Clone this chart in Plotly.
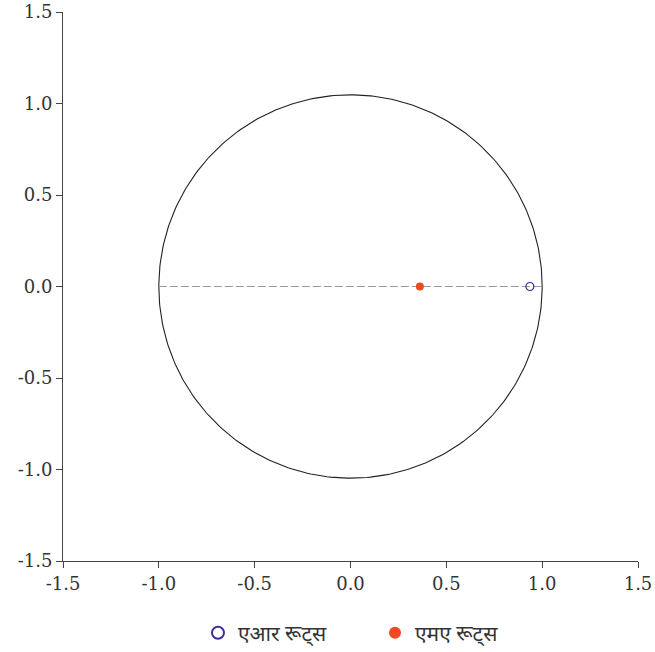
import numpy as np
import plotly.graph_objects as go

ar_roots_re = [0.936]
ar_roots_im = [0.0]
ma_roots_re = [0.362]
ma_roots_im = [0.0]
ref_line_x = [-1.0, 1.0]
ref_line_y = [0.0, 0.0]
tick_vals = [-1.5, -1.0, -0.5, 0.0, 0.5, 1.0, 1.5]
tick_text = ["-1.5", "-1.0", "-0.5", "0.0", "0.5", "1.0", "1.5"]

W, H = 655, 652
ml, mr, mt, mb = 63, 17, 12, 91
pw, ph = W - ml - mr, H - mt - mb
ratio = (pw / 3.0) / (ph / 3.0)

theta = np.linspace(0, 2 * np.pi, 361)
cx = np.cos(theta)
cy = np.sin(theta) * ratio

fig = go.Figure()
fig.add_trace(go.Scatter(x=cx, y=cy, mode="lines", line=dict(color="#222222", width=1.1),
                         showlegend=False, hoverinfo="skip"))
fig.add_trace(go.Scatter(x=ref_line_x, y=ref_line_y, mode="lines",
                         line=dict(color="#999999", width=1.2, dash="8px,3px"),
                         showlegend=False, hoverinfo="skip"))
fig.add_trace(go.Scatter(x=ar_roots_re, y=ar_roots_im, mode="markers", name="एआर रूट्स",
                         marker=dict(symbol="circle-open", size=8, color="#3a2ea0", line=dict(width=1.2))))
fig.add_trace(go.Scatter(x=ma_roots_re, y=ma_roots_im, mode="markers", name="एमए रूट्स",
                         marker=dict(symbol="circle", size=8, color="#f04a23")))

axis_common = dict(tickvals=tick_vals, ticktext=tick_text, range=[-1.5, 1.5],
                   showgrid=False, zeroline=False, showline=True, linecolor="#444444",
                   linewidth=1, ticks="outside", ticklen=6, tickcolor="#444444",
                   automargin=False,
                   tickfont=dict(size=18, color="#333333", family="DejaVu Serif"))

fig.update_layout(
    width=W, height=H,
    margin=dict(l=ml, r=mr, t=mt, b=mb, autoexpand=False),
    plot_bgcolor="white", paper_bgcolor="white",
    xaxis=dict(**axis_common),
    yaxis=dict(**axis_common),
    legend=dict(orientation="h", x=(198 - ml) / pw, xanchor="left", y=-0.094, yanchor="top",
                font=dict(size=21, color="#333333", family="Noto Sans"),
                entrywidth=132, entrywidthmode="pixels",
                itemsizing="constant"),
)

fig.write_html("out.html", config={"displayModeBar": False},
               post_script="document.body.style.margin='0';")
